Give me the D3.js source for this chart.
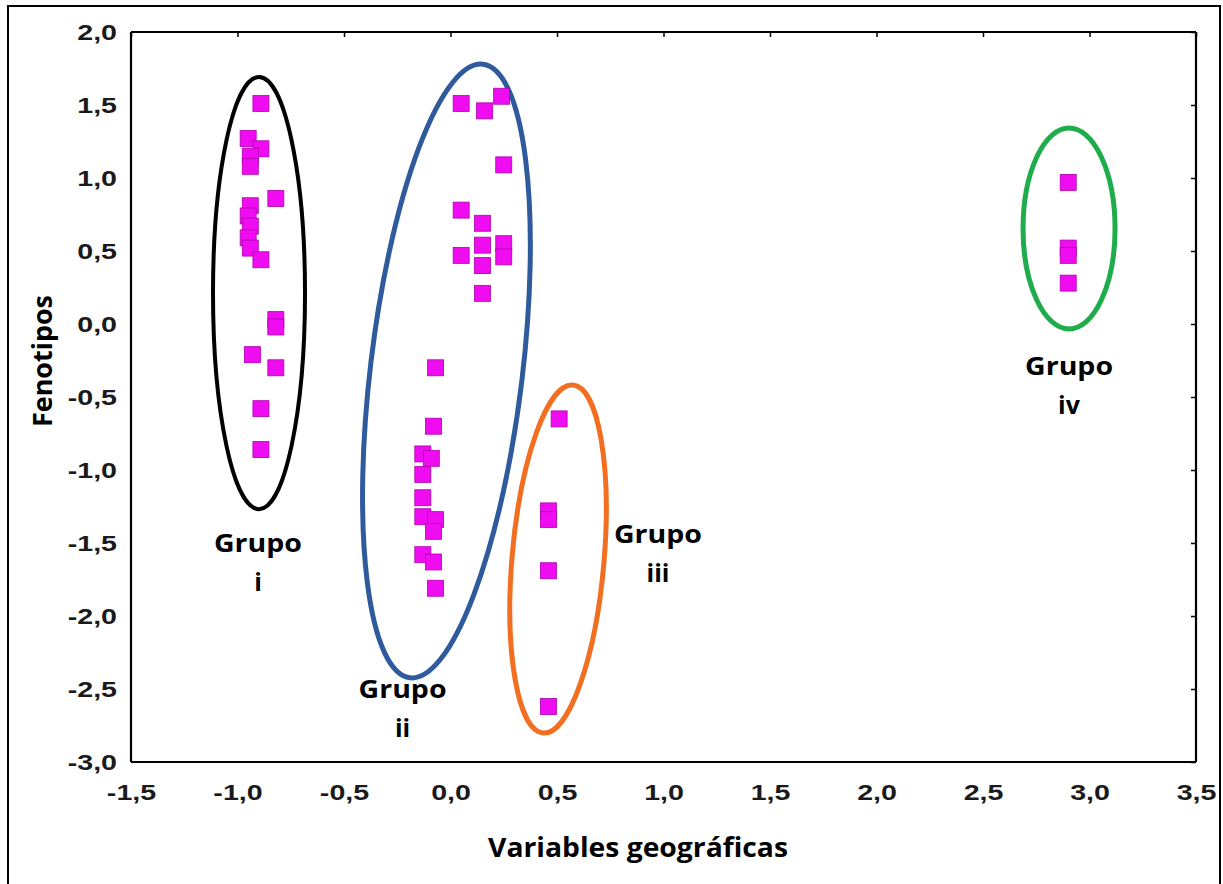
<!DOCTYPE html>
<html>
<head>
<meta charset="utf-8">
<script src="https://cdn.jsdelivr.net/npm/d3@7"></script>
<style>
  html, body { margin: 0; padding: 0; background: #fff; }
  svg { display: block; }
</style>
</head>
<body>
<svg id="chart" width="1223" height="884"></svg>
<script>
// ---- Data: scores per group (x = Variables geográficas, y = Fenotipos) ----
const groupNames = ["Grupo i", "Grupo ii", "Grupo iii", "Grupo iv"];

const grupoI_x = [-0.89, -0.95, -0.89, -0.94, -0.94, -0.82, -0.94, -0.95, -0.94, -0.95, -0.94, -0.89, -0.82, -0.82, -0.93, -0.82, -0.89, -0.89];
const grupoI_y = [ 1.51,  1.27,  1.20,  1.15,  1.08,  0.86,  0.81,  0.74,  0.67,  0.59,  0.52,  0.44,  0.03, -0.02, -0.21, -0.30, -0.58, -0.86];

const grupoII_x = [0.05, 0.16, 0.24, 0.25, 0.05, 0.15, 0.15, 0.25, 0.25, 0.05, 0.15, 0.15, -0.07, -0.08, -0.13, -0.09, -0.13, -0.13, -0.13, -0.07, -0.08, -0.13, -0.08, -0.07];
const grupoII_y = [1.51, 1.46, 1.56, 1.09, 0.78, 0.69, 0.54, 0.55, 0.46, 0.47, 0.40, 0.21, -0.30, -0.70, -0.89, -0.92, -1.03, -1.19, -1.32, -1.34, -1.42, -1.58, -1.63, -1.81];

const grupoIII_x = [0.51, 0.46, 0.46, 0.46, 0.46];
const grupoIII_y = [-0.65, -1.28, -1.34, -1.69, -2.62];

const grupoIV_x = [2.90, 2.90, 2.90, 2.90];
const grupoIV_y = [0.97, 0.52, 0.47, 0.28];

const xTicks = [-1.5, -1.0, -0.5, 0.0, 0.5, 1.0, 1.5, 2.0, 2.5, 3.0, 3.5];
const yTicks = [2.0, 1.5, 1.0, 0.5, 0.0, -0.5, -1.0, -1.5, -2.0, -2.5, -3.0];

const xTitle = "Variables geográficas";
const yTitle = "Fenotipos";
const groupLabelLines = [["Grupo", "i"], ["Grupo", "ii"], ["Grupo", "iii"], ["Grupo", "iv"]];

// ---- Layout ----
const plot = { left: 131, right: 1196, top: 32, bottom: 762 };

const x = d3.scaleLinear().domain([-1.5, 3.5]).range([plot.left, plot.right]);
const y = d3.scaleLinear().domain([-3.0, 2.0]).range([plot.bottom, plot.top]);

const fmt = v => d3.format(".1f")(v).replace(".", ",").replace("−", "-");

const svg = d3.select("#chart");

// outer frame
svg.append("rect")
  .attr("x", 8).attr("y", 6)
  .attr("width", 1212).attr("height", 900)
  .attr("fill", "none").attr("stroke", "#000").attr("stroke-width", 2);

// group enclosures (centre and radii in data units, rotation in degrees)
const enclosures = [
  { cx: -0.899, cy:  0.212, rx: 0.216, ry: 1.480, rot: 0,   color: "#000000", w: 4 },
  { cx: -0.019, cy: -0.322, rx: 0.357, ry: 2.116, rot: 6.8, color: "#2f5b9c", w: 5 },
  { cx:  0.505, cy: -1.610, rx: 0.216, ry: 1.196, rot: 4.9, color: "#f26f21", w: 5 },
  { cx:  2.904, cy:  0.654, rx: 0.216, ry: 0.688, rot: 0,   color: "#1fad4c", w: 5 }
];
const kx = x(1) - x(0), ky = y(0) - y(1);
svg.append("g").selectAll("ellipse")
  .data(enclosures).join("ellipse")
  .attr("transform", d => `translate(${x(d.cx)},${y(d.cy)}) rotate(${d.rot})`)
  .attr("rx", d => d.rx * kx)
  .attr("ry", d => d.ry * ky)
  .attr("fill", "none")
  .attr("stroke", d => d.color)
  .attr("stroke-width", d => d.w);

// points
const series = [
  [grupoI_x, grupoI_y], [grupoII_x, grupoII_y], [grupoIII_x, grupoIII_y], [grupoIV_x, grupoIV_y]
];
const pts = series.flatMap(([xs, ys], g) => xs.map((v, i) => ({ x: v, y: ys[i], g })));
const S = 16;
svg.append("g").selectAll("rect")
  .data(pts).join("rect")
  .attr("x", d => x(d.x) - S / 2)
  .attr("y", d => y(d.y) - S / 2)
  .attr("width", S).attr("height", S)
  .attr("fill", "#f00cf0")
  .attr("stroke", "#b000b0")
  .attr("stroke-width", 0.8);

// axes
const tickFont = "'Liberation Sans', Arial, sans-serif";
const stretch = 1.3;

const gx = svg.append("g")
  .attr("transform", `translate(0,${plot.bottom})`)
  .call(d3.axisBottom(x).tickValues(xTicks).tickSize(0).tickFormat(fmt));
gx.selectAll("text")
  .attr("y", 30).attr("dy", "0.35em")
  .attr("transform", `scale(${stretch},1)`);

const gy = svg.append("g")
  .attr("transform", `translate(${plot.left},0)`)
  .call(d3.axisLeft(y).tickValues(yTicks).tickSize(0).tickFormat(fmt));
gy.selectAll("text")
  .attr("x", -14 / stretch).attr("dy", "0.35em")
  .attr("transform", `scale(${stretch},1)`);

const gt = svg.append("g")
  .attr("transform", `translate(0,${plot.top})`)
  .call(d3.axisTop(x).tickValues(xTicks).tickSize(-5).tickFormat(""));
const gr = svg.append("g")
  .attr("transform", `translate(${plot.right},0)`)
  .call(d3.axisRight(y).tickValues(yTicks).tickSize(-5).tickFormat(""));

[gx, gy, gt, gr].forEach(g => {
  g.select(".domain").attr("stroke", "#000").attr("stroke-width", 2.2);
  g.selectAll(".tick line").attr("stroke", "#000").attr("stroke-width", 1.5);
  g.selectAll("text")
    .attr("font-family", tickFont)
    .attr("font-weight", "bold")
    .attr("font-size", 22)
    .attr("fill", "#1a1a1a");
});
gx.select(".domain").attr("d", `M${plot.left},0H${plot.right}`);
gy.select(".domain").attr("d", `M0,${plot.bottom}V${plot.top}`);
gt.select(".domain").attr("d", `M${plot.left},0H${plot.right}`);
gr.select(".domain").attr("d", `M0,${plot.bottom}V${plot.top}`);

// titles
const titleFont = "'Open Sans', sans-serif";
svg.append("text")
  .attr("x", 638).attr("y", 857)
  .attr("text-anchor", "middle")
  .attr("font-family", titleFont).attr("font-weight", "bold").attr("font-size", 26)
  .attr("textLength", 300).attr("lengthAdjust", "spacingAndGlyphs")
  .text(xTitle);

svg.append("text")
  .attr("transform", "translate(52,361) rotate(-90)")
  .attr("text-anchor", "middle")
  .attr("font-family", titleFont).attr("font-weight", "bold").attr("font-size", 26)
  .attr("textLength", 132).attr("lengthAdjust", "spacingAndGlyphs")
  .text(yTitle);

// group labels (anchor = centre of the first line baseline, in data units)
const labelAnchors = [
  { x: -0.904, y: -1.562 },
  { x: -0.225, y: -2.562 },
  { x:  0.974, y: -1.500 },
  { x:  2.904, y: -0.349 }
];
const lineGap = 39;
const lbl = svg.append("g").selectAll("text")
  .data(labelAnchors).join("text")
  .attr("text-anchor", "middle")
  .attr("font-family", titleFont).attr("font-weight", "bold").attr("font-size", 25)
  .attr("fill", "#000");
lbl.each(function(d, i) {
  const t = d3.select(this);
  groupLabelLines[i].forEach((line, j) => {
    const ts = t.append("tspan")
      .attr("x", x(d.x))
      .attr("y", y(d.y) + j * lineGap)
      .text(line);
    if (j === 0) ts.attr("textLength", 88).attr("lengthAdjust", "spacingAndGlyphs");
  });
});
</script>
</body>
</html>
